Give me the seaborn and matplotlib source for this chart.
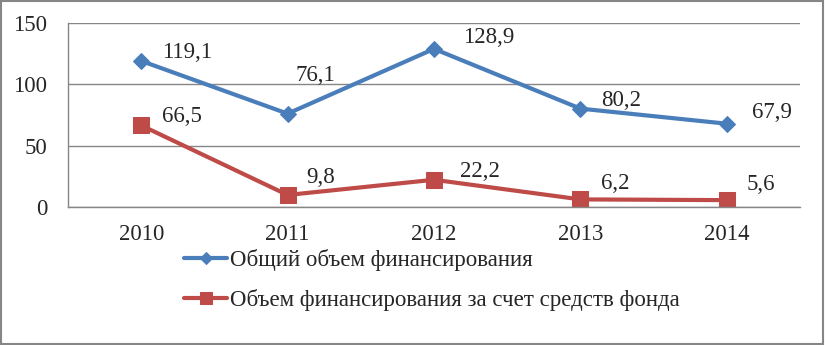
import matplotlib
matplotlib.use("Agg")
import matplotlib.pyplot as plt
import matplotlib.patches as patches
import numpy as np
import pandas as pd
import seaborn as sns

YEARS = ["2010", "2011", "2012", "2013", "2014"]
TOTAL = [119.1, 76.1, 128.9, 80.2, 67.9]
FUND = [66.5, 9.8, 22.2, 6.2, 5.6]
LABEL_TOTAL = "Общий объем финансирования"
LABEL_FUND = "Объем финансирования за счет средств фонда"

# data label offsets in pixels (label left edge, baseline above point)
TOTAL_OFFSETS = [(21, 3), (8, 33), (29, 6), (21, 3), (25, 6)]
FUND_OFFSETS = [(21, 3), (19, 12), (26, 3), (21, 10), (20, 10)]

BLUE = "#4A7EBB"
RED = "#BE4B48"
GRID = "#868686"
FS = 16.5

sns.set_theme(style="white")
plt.rcParams["font.family"] = ["Liberation Serif", "DejaVu Serif"]

df = pd.DataFrame({"x": np.arange(len(YEARS)), "total": TOTAL, "fund": FUND})

fig = plt.figure(figsize=(8.25, 3.45), dpi=100)
ax = fig.add_axes([68 / 825, 1 - 207 / 345, 732 / 825, 184 / 345])

sns.lineplot(data=df, x="x", y="total", color=BLUE, marker="D", markersize=8,
             markeredgecolor=BLUE, linewidth=3, ax=ax, label=LABEL_TOTAL)
sns.lineplot(data=df, x="x", y="fund", color=RED, marker="s", markersize=11,
             markeredgecolor=RED, linewidth=3, ax=ax, label=LABEL_FUND)


def fmt(v):
    return f"{v:.1f}".replace(".", ",")


for i, (t, f) in enumerate(zip(TOTAL, FUND)):
    ax.annotate(fmt(t), (i, t), xytext=TOTAL_OFFSETS[i], textcoords="offset pixels",
                fontsize=FS, va="baseline", ha="left")
    ax.annotate(fmt(f), (i, f), xytext=FUND_OFFSETS[i], textcoords="offset pixels",
                fontsize=FS, va="baseline", ha="left")

ax.set_xlim(-0.5, 4.5)
ax.set_ylim(0, 150)
ax.set_yticks([0, 50, 100, 150])
ax.set_xticks(range(len(YEARS)))
ax.set_xticklabels(YEARS)
ax.set_xticks(np.arange(-0.5, 5, 1), minor=True)
ax.tick_params(axis="x", which="major", length=0, labelsize=FS, pad=12)
ax.tick_params(axis="x", which="minor", length=5, color=GRID, direction="out")
ax.tick_params(axis="y", length=5, color=GRID, direction="out", labelsize=FS, pad=10)
ax.yaxis.grid(True, color=GRID, linewidth=1)
ax.set_axisbelow(True)
ax.set_xlabel("")
ax.set_ylabel("")
for side in ["top", "right"]:
    ax.spines[side].set_visible(False)
for side in ["left", "bottom"]:
    ax.spines[side].set_color(GRID)
    ax.spines[side].set_linewidth(1)

handles, labels = ax.get_legend_handles_labels()
ax.get_legend().remove()
fig.legend(handles, labels, loc="upper left", bbox_to_anchor=(173 / 825, 1 - 238 / 345),
           frameon=False, fontsize=FS, handlelength=1.85, handletextpad=0.15,
           labelspacing=0.75, borderpad=0, markerscale=0.8)

fig.patches.append(patches.Rectangle((0.001, 0.003), 0.997, 0.994, transform=fig.transFigure,
                                     fill=False, edgecolor=GRID, linewidth=1.5))

fig.savefig("out.png", dpi=100)
